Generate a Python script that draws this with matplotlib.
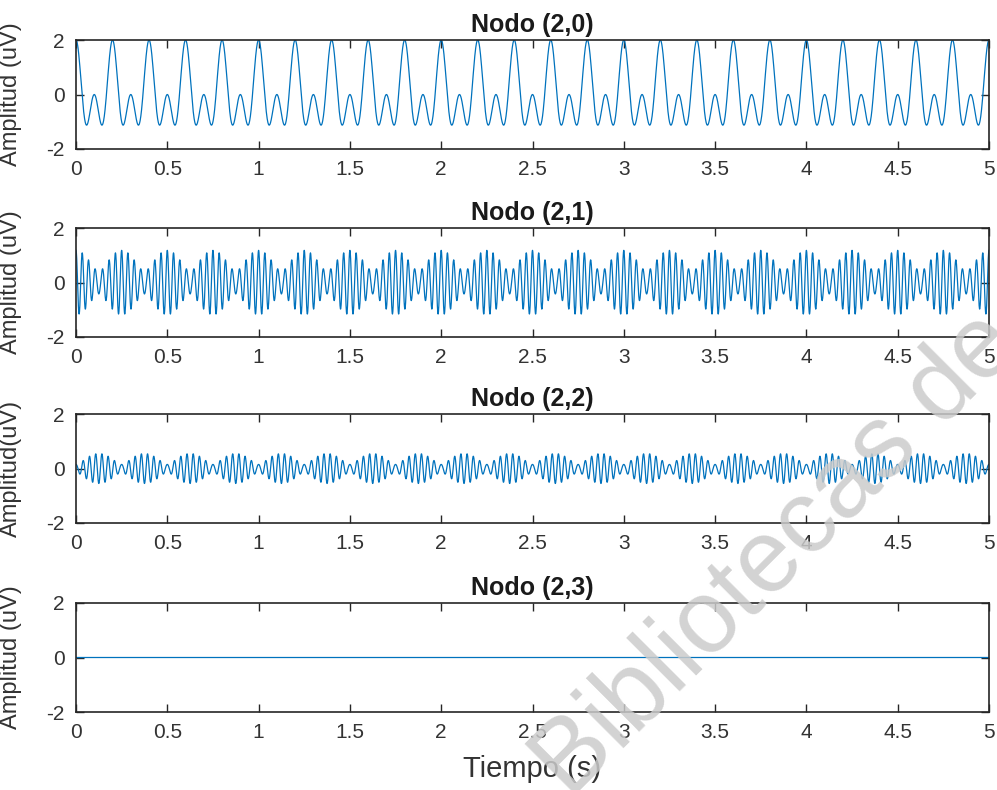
# Cuatro nodos: senal de amplitud en el tiempo (estilo MATLAB)

import numpy as np
import matplotlib.pyplot as plt

plt.rcParams['font.family'] = ['Liberation Sans', 'DejaVu Sans']
plt.rcParams['axes.unicode_minus'] = False

# Eje de tiempo (s) y muestreo
t_start = 0.0
t_end = 5.0
fs = 1000

# Componentes de cada nodo: frecuencias (Hz), amplitudes (uV)
titles = ['Nodo (2,0)', 'Nodo (2,1)', 'Nodo (2,2)', 'Nodo (2,3)']
ylabels = ['Amplitud (uV)', 'Amplitud (uV)', 'Amplitud(uV)', 'Amplitud (uV)']
freqs_20 = [5, 10]
amps_20 = [1.0, 1.0]
freqs_21 = [28, 32]
amps_21 = [0.80, 0.38]
freqs_22 = [28, 32]
amps_22 = [0.35, -0.20]
freqs_23 = [30]
amps_23 = [0.0]

xticks = [0, 0.5, 1, 1.5, 2, 2.5, 3, 3.5, 4, 4.5, 5]
xticklabels = ['0', '0.5', '1', '1.5', '2', '2.5', '3', '3.5', '4', '4.5', '5']
yticks = [-2, 0, 2]

t = np.arange(t_start, t_end + 1.0 / fs, 1.0 / fs)


def build(freqs, amps):
    y = np.zeros_like(t)
    for f, a in zip(freqs, amps):
        y += a * np.cos(2 * np.pi * f * t)
    return y


signals = [build(freqs_20, amps_20), build(freqs_21, amps_21),
           build(freqs_22, amps_22), build(freqs_23, amps_23)]

fig = plt.figure(figsize=(9.97, 7.9), dpi=100)

W, H = 997.0, 790.0
left_px, right_px = 76, 989
tops_px = [40, 228, 414, 603]
height_px = 109

axc = '#262626'
for k in range(4):
    ax = fig.add_axes([left_px / W, 1 - (tops_px[k] + height_px) / H,
                       (right_px - left_px) / W, height_px / H])
    ax.plot(t, signals[k], color='#0072BD', lw=0.9)
    ax.set_xlim(0, 5)
    ax.set_ylim(-2, 2)
    ax.set_xticks(xticks)
    ax.set_xticklabels(xticklabels)
    ax.set_yticks(yticks)
    ax.tick_params(direction='in', length=6, width=1.0, colors=axc,
                   labelsize=15, labelcolor='#333333', top=True, right=True)
    ax.tick_params(axis='x', pad=8)
    ax.tick_params(axis='y', pad=8)
    for s in ax.spines.values():
        s.set_color(axc)
        s.set_linewidth(1.2)
    ax.set_title(titles[k], fontsize=18, fontweight='bold', color='#1a1a1a', pad=6)
    ax.set_ylabel(ylabels[k], fontsize=17, color='#333333')
    ax.yaxis.set_label_coords(-0.059, 0.5)
    if k == 3:
        ax.set_xlabel('Tiempo (s)', fontsize=21, color='#333333', va='top')
        ax.xaxis.set_label_coords(0.5, -0.39)

# marca de agua
fig.text(570 / W, 1 - 800 / H, 'Bibliotecas de', fontsize=74, color='#cbcbcb',
         alpha=0.85, rotation=45, rotation_mode='anchor', ha='left', va='baseline',
         zorder=10)

fig.savefig('out.png', dpi=100)
